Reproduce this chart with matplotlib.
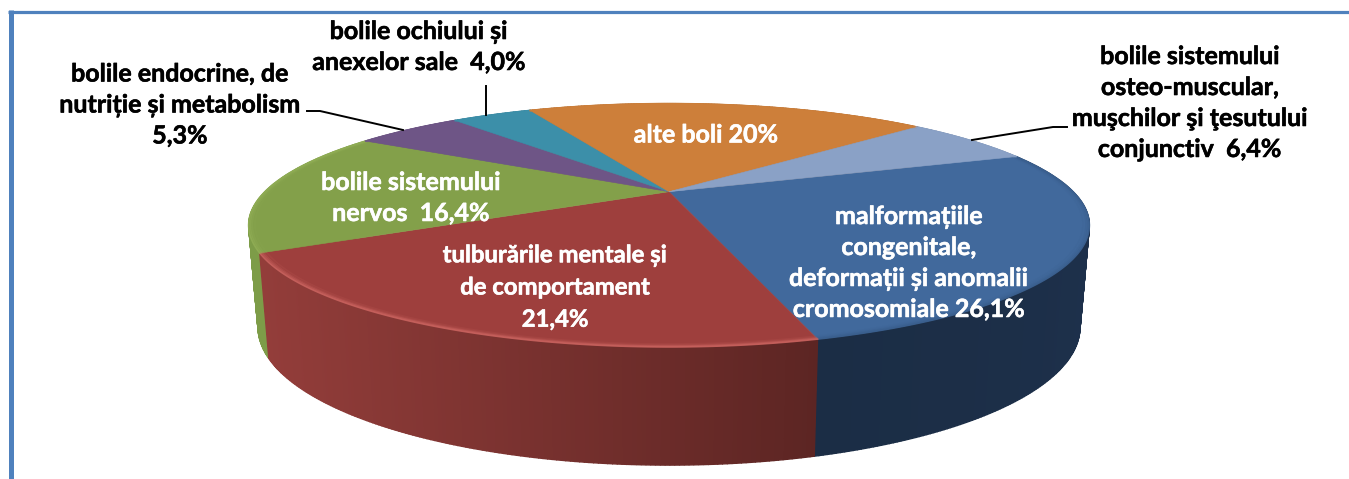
import numpy as np
import matplotlib
matplotlib.use('Agg')
import matplotlib.pyplot as plt
import matplotlib.patheffects as pe

plt.rcParams['font.family'] = ['Lato', 'Open Sans', 'DejaVu Sans']

# clockwise from the upper right
labels = ['malformațiile\ncongenitale,\ndeformații și anomalii\ncromosomiale 26,1%',
          'tulburările mentale și\nde comportament\n21,4%',
          'bolile sistemului\nnervos  16,4%',
          'bolile endocrine, de\nnutriție și metabolism\n5,3%',
          'bolile ochiului și\nanexelor sale  4,0%',
          'alte boli 20%',
          'bolile sistemului\nosteo-muscular,\nmuşchilor şi ţesutului\nconjunctiv  6,4%']
values = [26.1, 21.4, 16.4, 5.3, 4.0, 20.0, 6.4]
top_colors = ['#41699c', '#9e3f3d', '#83a04a', '#6e5586', '#3c8fa9', '#cd7f3a', '#8aa1c6']
side_left = ['#1f3350', '#933d3a', '#7d9c48', '#5a4570', '#2f7389', '#a5662e', '#6f83a3']
side_right = ['#1b2d45', '#5c2523', '#7d9c48', '#5a4570', '#2f7389', '#a5662e', '#6f83a3']
rim_colors = ['#3a5f8e', '#c8625e', '#90ad55', '#6e5586', '#3c8fa9', '#cd7f3a', '#8aa1c6']
label_pos = [(909, 263), (555, 287), (411, 198), (180, 105), (419, 47), (706, 135), (1190, 103)]
label_sizes = [18, 17.2, 18, 18, 18, 18, 18]
label_colors = ['white', 'white', 'white', 'black', 'black', 'white', 'black']
leaders = [([307, 320, 403], [111, 111, 130]),
           ([486, 486], [86, 115]),
           ([1067, 1053, 972], [127, 127, 140])]

start_angle = 20.0
k = 0.276


def top_face(t, r=1.0):
    x, y = r * np.cos(t), r * np.sin(t)
    d = 1 + k * y
    return 669 + 404 * x / d, 191.7 - 112.4 * y / d


def bottom_face(t):
    x, y = np.cos(t), np.sin(t)
    d = 1 + k * y
    return 669 + 395 * x / d, 289 - 127.5 * y / d


fig = plt.figure(figsize=(13.49, 4.79), dpi=100)
ax = fig.add_axes([0, 0, 1, 1])
ax.set_xlim(0, 1349)
ax.set_ylim(479, 0)
ax.axis('off')

# frame of the page, top and left only
ax.plot([8, 1349], [11.5, 11.5], color='#4f81bd', lw=2.3, solid_capstyle='butt')
ax.plot([10.5, 10.5], [10, 479], color='#4f81bd', lw=3.6, solid_capstyle='butt')

ends = start_angle - np.cumsum(values) * 360 / sum(values)
starts = np.r_[start_angle, ends[:-1]]
order = [5, 6, 3, 4, 2, 0, 1]

# side wall first, the top face covers whatever is behind it
for i in order:
    n = max(int(starts[i] - ends[i]) * 2, 4)
    ts = np.radians(np.linspace(starts[i], ends[i], n + 1))
    c0 = np.array(matplotlib.colors.to_rgb(side_right[i]))
    c1 = np.array(matplotlib.colors.to_rgb(side_left[i]))
    for j in range(n):
        x0, y0 = top_face(ts[j:j + 2])
        x1, y1 = bottom_face(ts[j:j + 2])
        if i == 1:
            f = (x0.mean() - 260) / (820 - 260)
            col = c1 + (c0 - c1) * f
        else:
            col = c1 + (c0 - c1) * j / n
        ax.fill(np.r_[x0, x1[::-1]], np.r_[y0, y1[::-1]], color=col, lw=1.0, zorder=2)

# top face
for i in range(len(values)):
    ts = np.radians(np.linspace(starts[i], ends[i], 120))
    x, y = top_face(ts)
    cx, cy = top_face(np.array([0.0]), 0.0)
    ax.fill(np.r_[cx, x], np.r_[cy, y], color=top_colors[i], lw=0.4, zorder=3)
    # soft bevel along the rim
    for r, a in [(1.0, 0.9), (0.996, 0.55), (0.992, 0.3), (0.986, 0.15)]:
        xr, yr = top_face(ts, r)
        ax.plot(xr, yr, color=rim_colors[i], lw=1.2, alpha=a, zorder=4)

for xs, ys in leaders:
    ax.plot(xs, ys, color='black', lw=1.4, zorder=5)

for lab, (lx, ly), col, fs in zip(labels, label_pos, label_colors, label_sizes):
    t = ax.text(lx, ly, lab, color=col, ha='center', va='center', fontsize=fs,
                fontweight='bold', linespacing=1.42 * 18 / fs, zorder=6)
    t.set_path_effects([pe.withStroke(linewidth=0.4, foreground=col)])

fig.savefig('out.png', dpi=100)
